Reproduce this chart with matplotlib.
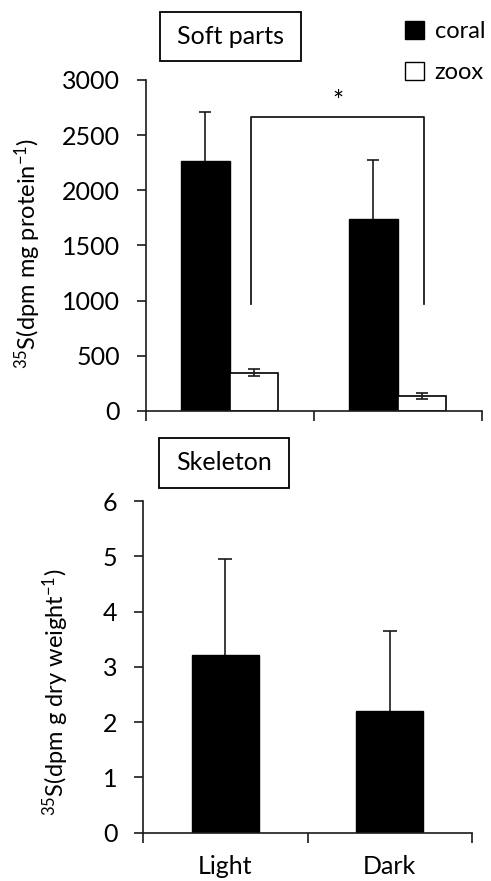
import numpy as np
import matplotlib
matplotlib.use('Agg')
import matplotlib.pyplot as plt
from matplotlib.patches import Patch, Rectangle

plt.rcParams['font.family'] = ['Lato', 'DejaVu Sans']
plt.rcParams['mathtext.fontset'] = 'custom'
plt.rcParams['mathtext.rm'] = 'Lato'
plt.rcParams['mathtext.it'] = 'Lato:italic'
plt.rcParams['mathtext.bf'] = 'Lato:bold'

# data
conditions = ['Light', 'Dark']
coral_soft = [2265, 1740]
coral_soft_err = [447, 532]
zoox_soft = [347, 139]
zoox_soft_err = [30, 28]
skeleton = [3.21, 2.21]
skeleton_err = [1.75, 1.44]

x = np.arange(len(conditions)) + 0.5
axc = '#1a1a1a'

fig = plt.figure(figsize=(4.91, 8.81), dpi=100)

# ---- soft parts
ax1 = fig.add_axes([0.2967, 0.5335, 0.9811 - 0.2967, 0.3757])
w1 = 0.29
ax1.bar(x - w1 / 2, coral_soft, w1, color='black', edgecolor='black', linewidth=1, zorder=2)
ax1.errorbar(x - w1 / 2, coral_soft, yerr=coral_soft_err, fmt='none',
             ecolor=axc, elinewidth=1.2, capsize=4, capthick=1.2, zorder=1)
ax1.bar(x + w1 / 2, zoox_soft, w1, color='white', edgecolor='black', linewidth=1.2, zorder=2)
ax1.errorbar(x + w1 / 2, zoox_soft, yerr=zoox_soft_err, fmt='none',
             ecolor=axc, elinewidth=1.2, capsize=4, capthick=1.2, zorder=3)
ax1.set_xlim(0, 2)
ax1.set_ylim(0, 3000)
ax1.set_yticks(np.arange(0, 3001, 500))
ax1.set_xticks([0, 1, 2])
ax1.set_xticklabels([])
ax1.set_ylabel(r'$^{35}$S(dpm mg protein$^{-1}$)', fontsize=17)
ax1.yaxis.set_label_coords(-0.306, 0.477)

# significance bracket
bx = [x[0] + 0.127, x[1] + 0.157]
ax1.plot([bx[0], bx[0], bx[1], bx[1]], [967, 2667, 2667, 967], color=axc, lw=1.3,
         clip_on=False)
ax1.text(np.mean(bx), 2800, '*', ha='center', va='center', fontsize=19)

ax1.legend(handles=[Patch(facecolor='black', edgecolor='black', label='coral'),
                    Patch(facecolor='white', edgecolor='black', label='zoox')],
           loc='lower left', bbox_to_anchor=(0.772, 0.99), frameon=False, fontsize=17,
           handlelength=0.8, handleheight=0.8, handletextpad=0.45, labelspacing=0.85,
           borderaxespad=0, borderpad=0)

# ---- skeleton
ax2 = fig.add_axes([0.2919, 0.0548, 0.9607 - 0.2919, 0.3765])
w2 = 0.41
ax2.bar(x, skeleton, w2, color='black', edgecolor='black', linewidth=1, zorder=2)
ax2.errorbar(x, skeleton, yerr=skeleton_err, fmt='none',
             ecolor=axc, elinewidth=1.2, capsize=5, capthick=1.2, zorder=1)
ax2.set_xlim(0, 2)
ax2.set_ylim(0, 6)
ax2.set_yticks(np.arange(0, 7, 1))
ax2.set_xticks([0, 1, 2])
ax2.set_xticklabels([])
ax2.set_xticks(x, minor=True)
ax2.set_xticklabels(conditions, minor=True, fontsize=18)
ax2.tick_params(axis='x', which='minor', length=0, pad=16)
ax2.set_ylabel(r'$^{35}$S(dpm g dry weight$^{-1}$)', fontsize=17)
ax2.yaxis.set_label_coords(-0.22, 0.423)

for ax in (ax1, ax2):
    for s in ('top', 'right'):
        ax.spines[s].set_visible(False)
    for s in ('left', 'bottom'):
        ax.spines[s].set_color(axc)
        ax.spines[s].set_linewidth(1.2)
    ax.tick_params(axis='y', which='major', direction='out', length=6.5, width=1.2,
                   color=axc, labelsize=18, pad=12)
    ax.tick_params(axis='x', which='major', direction='out', length=7, width=1.2,
                   color=axc)

# panel title boxes (pixel positions of reference)
for label, (l, t, r, b) in [('Soft parts', (160, 12, 301, 61)),
                            ('Skeleton', (159, 438, 289, 488))]:
    fig.patches.append(Rectangle((l / 491, 1 - b / 881), (r - l) / 491, (b - t) / 881,
                                 transform=fig.transFigure, facecolor='white',
                                 edgecolor='black', linewidth=1.3))
    fig.text((l + r) / 2 / 491, 1 - (t + b) / 2 / 881, label, ha='center', va='center',
             fontsize=18)

fig.savefig('out.png', dpi=100)
